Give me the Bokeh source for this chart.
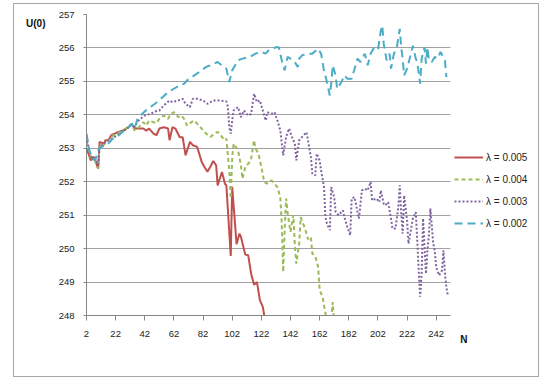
from bokeh.plotting import figure
from bokeh.models import Range1d, FixedTicker, Legend, LegendItem, Label
from bokeh.embed import file_html
from bokeh.resources import INLINE

# ---------------- data ----------------
x_ticks = [2, 22, 42, 62, 82, 102, 122, 142, 162, 182, 202, 222, 242]
y_ticks = [248, 249, 250, 251, 252, 253, 254, 255, 256, 257]

labels = ["λ = 0.005", "λ = 0.004", "λ = 0.003", "λ = 0.002"]

red_n = [2, 5, 7, 8, 10, 11, 14, 15, 17, 19, 24, 27, 31, 33, 35, 38, 41, 43, 45, 48,
         50, 52, 55, 58, 59, 61, 63, 66, 68, 70, 73, 75, 78, 81, 83, 85, 87, 89, 91, 92,
         95, 97, 98, 101, 102, 105, 107, 108, 111, 113, 115, 117, 119, 121, 123, 124, 125, 126, 128]
red_u = [253.0, 252.64, 252.74, 252.64, 252.39, 253.19, 253.14, 253.24, 253.24, 253.39,
         253.49, 253.53, 253.63, 253.73, 253.59, 253.59, 253.59, 253.53, 253.59, 253.44,
         253.39, 253.59, 253.63, 253.59, 253.24, 253.63, 253.59, 253.33, 253.33, 252.79,
         253.19, 253.09, 253.04, 252.6, 252.44, 252.3, 252.45, 252.62, 252.49, 251.89,
         252.29, 251.94, 251.89, 249.78, 251.85, 250.13, 250.45, 250.35, 249.82, 249.8,
         249.25, 248.92, 249.0, 248.46, 248.26, 248.0, 247.8, 248.0, 247.7]

green_n = [2, 5, 7, 8, 10, 11, 14, 16, 19, 22, 26, 30, 33, 35, 38, 41, 43, 45, 48, 50,
           52, 55, 58, 60, 62, 65, 67, 69, 71, 74, 76, 78, 81, 84, 87, 90, 92, 94, 97, 98,
           100, 101, 102, 103, 106, 108, 109, 111, 114, 115, 117, 118, 120, 122, 124, 126, 129, 131, 133, 135,
           136, 137, 138, 139, 140, 142, 144, 145, 146, 148, 149, 152, 154, 156, 157, 159, 161, 162, 164, 166,
           167, 169, 171, 172, 174]
green_u = [253.2, 252.74, 252.7, 252.6, 252.39, 253.1, 253.1, 253.2, 253.35, 253.42,
           253.5, 253.62, 253.73, 253.53, 253.63, 253.78, 253.68, 253.83, 253.78, 253.75,
           253.88, 253.98, 253.88, 254.03, 254.08, 253.93, 253.98, 253.88, 253.68, 253.78,
           253.83, 253.73, 253.59, 253.44, 253.34, 253.44, 253.49, 253.39, 253.24, 253.29,
           252.34, 251.5, 252.74, 253.14, 252.94, 252.49, 252.09, 252.44, 252.59, 252.69,
           253.24, 252.99, 252.84, 252.44, 251.99, 251.94, 252.04, 251.94, 251.84, 251.54,
           250.75, 249.3, 250.55, 251.5, 251.09, 250.5, 251.0, 250.1, 249.55, 250.15,
           250.94, 250.6, 250.28, 250.35, 249.85, 249.78, 249.45, 248.76, 248.56, 248.06,
           247.6, 247.5, 248.4, 247.8, 247.3]

purple_n = [2, 4, 6, 8, 10, 11, 14, 17, 20, 23, 27, 30, 33, 35, 37, 39, 42, 46, 49, 52,
            55, 59, 61, 65, 68, 70, 73, 75, 78, 82, 85, 89, 93, 98, 99, 100, 101, 102, 103, 106,
            108, 110, 113, 115, 117, 119, 121, 123, 125, 126, 129, 131, 133, 135, 137, 139, 141, 143, 145, 146,
            148, 150, 153, 154, 156, 157, 159, 160, 162, 163, 165, 166, 167, 169, 170, 172, 173, 175, 178, 179,
            181, 183, 184, 186, 188, 189, 191, 193, 195, 197, 198, 201, 203, 204, 206, 207, 209, 211, 212, 214,
            216, 217, 218, 219, 220, 222, 223, 225, 226, 228, 229, 230, 231, 232, 233, 234, 235, 236, 237, 238,
            240, 241, 242, 244, 246, 247, 248, 249, 250]
purple_u = [253.34, 252.9, 252.7, 252.69, 252.5, 253.04, 253.14, 253.24, 253.3, 253.39,
            253.5, 253.6, 253.7, 253.63, 253.8, 253.88, 253.98, 254.03, 254.1, 254.13,
            254.28, 254.43, 254.38, 254.43, 254.48, 254.33, 254.23, 254.48, 254.48, 254.43,
            254.33, 254.43, 254.43, 254.4, 254.25, 253.63, 253.44, 253.83, 254.13, 254.23,
            253.93, 254.13, 253.98, 254.03, 254.63, 254.38, 254.43, 254.13, 253.83, 254.08,
            254.03, 254.08, 253.83, 253.54, 252.79, 253.34, 253.59, 253.34, 253.14, 252.64,
            253.24, 253.34, 253.48, 253.24, 252.74, 252.24, 252.19, 252.84, 252.64, 252.34,
            251.84, 250.94, 250.75, 250.55, 251.84, 251.54, 251.09, 251.0, 251.14, 250.94,
            250.65, 250.4, 251.5, 251.54, 251.09, 250.9, 251.74, 251.79, 251.74, 251.99,
            251.44, 251.5, 251.39, 251.74, 251.34, 251.29, 251.39, 250.9, 250.6, 250.6,
            251.24, 251.89, 251.05, 250.45, 251.59, 250.85, 250.15, 250.65, 250.9, 251.09,
            250.25, 249.35, 248.56, 249.25, 250.9, 250.05, 249.25, 249.95, 250.4, 251.2,
            250.15, 249.95, 249.45, 249.2, 249.35, 249.95, 249.25, 248.85, 248.6]

blue_n = [2, 4, 6, 8, 10, 12, 16, 20, 23, 27, 30, 33, 35, 37, 39, 42, 44, 49, 53, 58,
          62, 66, 69, 71, 76, 81, 84, 87, 92, 95, 98, 100, 102, 106, 109, 114, 118, 122, 125, 127,
          132, 134, 136, 138, 140, 142, 145, 147, 148, 150, 154, 157, 161, 163, 165, 167, 169, 170, 171, 173,
          174, 177, 179, 181, 184, 186, 188, 190, 193, 195, 197, 199, 202, 204, 205, 206, 208, 210, 211, 213,
          215, 217, 218, 219, 220, 222, 225, 226, 228, 229, 231, 232, 234, 235, 236, 237, 239, 241, 243, 245,
          248, 249]
blue_u = [253.44, 252.94, 252.69, 252.64, 252.94, 253.04, 253.09, 253.29, 253.34, 253.5,
          253.59, 253.73, 253.59, 253.88, 253.98, 254.1, 254.18, 254.33, 254.48, 254.68,
          254.78, 254.88, 254.93, 255.03, 255.18, 255.33, 255.43, 255.48, 255.58, 255.48,
          255.38, 254.98, 255.33, 255.63, 255.68, 255.73, 255.83, 255.88, 255.83, 255.93,
          256.02, 256.02, 255.63, 255.33, 255.73, 255.68, 255.58, 255.43, 255.68, 255.78,
          255.83, 255.83, 255.98, 255.83, 255.33, 254.98, 254.58, 254.93, 255.48, 255.18,
          254.78, 254.98, 255.18, 255.08, 255.08, 255.38, 255.68, 255.58, 255.83, 255.48,
          255.83, 255.98, 255.93, 256.52, 256.67, 256.12, 255.63, 255.83, 255.38, 255.83,
          256.02, 256.57, 256.02, 255.68, 255.18, 255.38, 255.88, 256.07, 255.68, 255.58,
          254.93, 255.68, 256.02, 255.53, 256.02, 255.63, 255.58, 255.73, 255.68, 255.88,
          255.63, 255.13]

# ---------------- figure ----------------
W, H = 526, 374
LEFT, TOP, BOTTOM, RIGHT = 72, 10, 63, 2
n_end = 2 + (W - LEFT - RIGHT) / 1.457

p = figure(width=W, height=H, output_backend="svg", toolbar_location=None,
           x_range=Range1d(2, n_end), y_range=Range1d(248, 257),
           min_border_left=LEFT, min_border_right=RIGHT, min_border_top=TOP,
           min_border_bottom=BOTTOM)
p.styles = {"border": "1px solid #a6a6a6", "margin-left": "13px", "margin-top": "3px"}
p.outline_line_color = None
p.background_fill_color = "white"
p.border_fill_color = "white"

tick_font = "Liberation Sans"
for ax in (p.xaxis[0], p.yaxis[0]):
    ax.axis_line_color = "#868686"
    ax.major_tick_line_color = "#868686"
    ax.minor_tick_line_color = None
    ax.major_tick_in = 0
    ax.major_label_text_font = tick_font
    ax.major_label_text_font_size = "9.5px"
    ax.major_label_text_color = "#222222"

p.xaxis.ticker = FixedTicker(ticks=x_ticks)
p.xaxis.bounds = (2, 252)
p.xaxis.major_tick_out = 5
p.xaxis.major_label_standoff = 10
p.yaxis.ticker = FixedTicker(ticks=y_ticks)
p.yaxis.major_tick_out = 3
p.yaxis.major_label_standoff = 9

p.xgrid.grid_line_color = None
p.ygrid.ticker = FixedTicker(ticks=y_ticks)
p.ygrid.grid_line_color = "#a0a0a0"
p.ygrid.grid_line_width = 1
try:
    p.ygrid.cross_bounds = (2, 252)
except Exception:
    pass

r_red = p.line(red_n, red_u, line_color="#C0504D", line_width=2)
r_green = p.line(green_n, green_u, line_color="#9BBB59", line_width=2, line_dash="4 3")
r_purple = p.line(purple_n, purple_u, line_color="#8064A2", line_width=2, line_dash="2 2")
r_blue = p.line(blue_n, blue_u, line_color="#4BACC6", line_width=2, line_dash="8 5")

legend = Legend(items=[LegendItem(label=labels[0], renderers=[r_red]),
                       LegendItem(label=labels[1], renderers=[r_green]),
                       LegendItem(label=labels[2], renderers=[r_purple]),
                       LegendItem(label=labels[3], renderers=[r_blue])],
                location=(368, 86), padding=0, margin=0, spacing=10,
                glyph_width=29, glyph_height=12, label_height=12,
                label_standoff=3, label_text_font="Liberation Sans",
                label_text_font_size="10px", label_text_color="#222222",
                border_line_color=None, background_fill_alpha=0)
p.add_layout(legend)

# axis titles placed in the side panels (data coordinates of the frame scales)
p.add_layout(Label(x=-39.5, y=256.73, text="U(0)", text_font="Liberation Sans",
                   text_font_size="10px", text_font_style="bold",
                   text_baseline="middle", text_align="left", text_color="#111111"), "left")
p.add_layout(Label(x=258.6, y=247.29, text="N", text_font="Liberation Sans",
                   text_font_size="10px", text_font_style="bold",
                   text_baseline="middle", text_align="left", text_color="#111111"), "below")

open("out.html", "w").write(file_html(p, INLINE))
